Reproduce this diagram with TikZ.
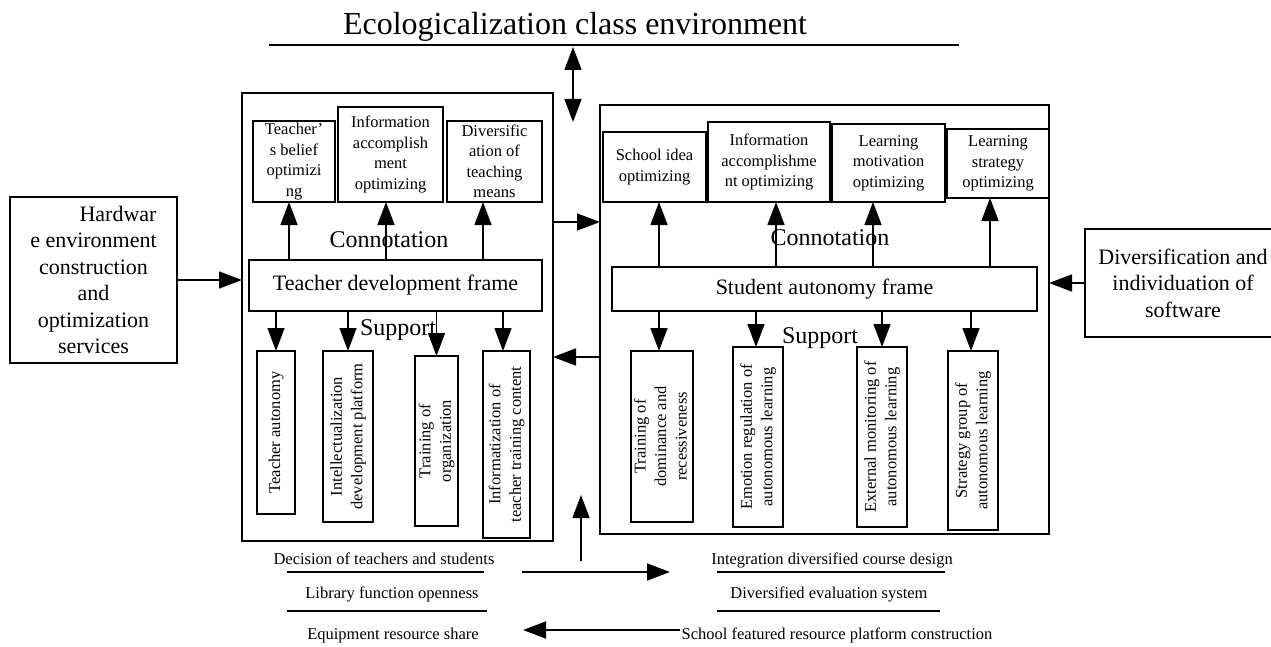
\documentclass[tikz,border=0pt]{standalone}
\usepackage{fontspec}
\setmainfont{Liberation Serif}
\usepackage{graphicx}
\usetikzlibrary{arrows.meta}
\begin{document}
\begin{tikzpicture}[x=1pt,y=-1pt]
\tikzset{
 box/.style={draw, line width=1.6pt, inner sep=0pt, outer sep=0pt, align=center},
 frame/.style={draw, line width=1.6pt, inner sep=0pt, outer sep=0pt},
 fs/.style={font=\fontsize{16.5}{20.5}\selectfont},
 fm/.style={font=\fontsize{22}{26.5}\selectfont},
 fl/.style={font=\fontsize{24}{28}\selectfont},
 arr/.style={line width=1.4pt, -{Triangle[length=23pt,width=17pt]}},
 darr/.style={line width=1.4pt, {Triangle[length=23pt,width=17pt]}-{Triangle[length=23pt,width=17pt]}},
 rulel/.style={line width=1.6pt},
 lbl/.style={inner sep=0pt, anchor=base},
}
\useasboundingbox (0,0) rectangle (1271,647);
\fill[white] (0,0) rectangle (1271,647);

% title
\node[lbl, font=\fontsize{32}{38}\selectfont] (title) at (575,35) {Ecologicalization class environment};
\coordinate (ul1) at (269,45);
\coordinate (ul2) at (959,45);
\draw[rulel] (ul1) -- (ul2);
\coordinate (ecoA) at (573,47);
\coordinate (ecoB) at (573,122);
\draw[darr] (ecoA) -- (ecoB);

% big frames
\node[frame, minimum width=311pt, minimum height=448pt] (T) at (397.5,317) {};
\node[frame, minimum width=449pt, minimum height=429pt] (S) at (824.5,319.5) {};

% side boxes
\node[box, fm, minimum width=167pt, minimum height=166pt] (H) at (93.5,280)
 {\makebox[126pt][r]{Hardwar}\\e environment\\construction\\and\\optimization\\services};
\node[box, fm, minimum width=196pt, minimum height=108pt] (D) at (1183,283)
 {Diversification and\\individuation of\\software};
\draw[arr] (H.east) -- (H.east -| T.west);
\draw[arr] (D.west) -- (D.west -| S.east);

\coordinate (tsA) at ([yshift=95pt]T.east);
\draw[arr] (tsA) -- (tsA -| S.west);
\coordinate (stA) at ([yshift=-37.5pt]S.west);
\draw[arr] (stA) -- (stA -| T.east);

% teacher frame content
\node[box, fs, minimum width=82pt, minimum height=81pt] (t1) at (294,161.5) {Teacher’\\s belief\\optimizi\\ng};
\node[box, fs, minimum width=105pt, minimum height=95pt] (t2) at (390.5,154.5) {Information\\accomplish\\ment\\optimizing};
\node[box, fs, minimum width=95pt, minimum height=81pt] (t3) at (494.5,161.5) {Diversific\\ation of\\teaching\\means};
\node[lbl, fl] (con1) at (389,247) {Connotation};
\node[box, fm, minimum width=293pt, minimum height=51pt] (TF) at (395.5,285.5) {Teacher development frame};
\draw[arr] ([xshift=-5pt]t1.south |- TF.north) -- ([xshift=-5pt]t1.south);
\draw[arr] ([xshift=-4.5pt]t2.south |- TF.north) -- ([xshift=-4.5pt]t2.south);
\draw[arr] ([xshift=-11.5pt]t3.south |- TF.north) -- ([xshift=-11.5pt]t3.south);

\node[lbl, fl] (sup1) at (398,335) {Support};
\node[box, fs, minimum width=38pt, minimum height=163pt] (b1) at (276,432.5)
 {\rotatebox{90}{\begin{tabular}{@{}c@{}}Teacher autonomy\end{tabular}}};
\node[box, fs, minimum width=50pt, minimum height=171pt] (b2) at (348,436.5)
 {\rotatebox{90}{\begin{tabular}{@{}c@{}}Intellectualization\\development platform\end{tabular}}};
\node[box, fs, minimum width=43pt, minimum height=170pt] (b3) at (436.5,441)
 {\rotatebox{90}{\begin{tabular}{@{}c@{}}Training of\\organization\end{tabular}}};
\node[box, fs, minimum width=47pt, minimum height=187pt] (b4) at (506.5,444.5)
 {\rotatebox{90}{\begin{tabular}{@{}c@{}}Informatization of\\teacher training content\end{tabular}}};
\draw[arr] (b1.north |- TF.south) -- (b1.north);
\draw[arr] (b2.north |- TF.south) -- (b2.north);
\draw[arr] (b3.north |- TF.south) -- (b3.north);
\draw[arr] ([xshift=-3.5pt]b4.north |- TF.south) -- ([xshift=-3.5pt]b4.north);

% student frame content
\node[box, fs, minimum width=103pt, minimum height=70pt] (s1) at (654.5,167) {School idea\\optimizing};
\node[box, fs, minimum width=122pt, minimum height=80pt] (s2) at (769,162) {Information\\accomplishme\\nt optimizing};
\node[box, fs, minimum width=113pt, minimum height=78pt] (s3) at (888.5,163) {Learning\\motivation\\optimizing};
\node[box, fs, minimum width=102pt, minimum height=69pt] (s4) at (998,163.5) {Learning\\strategy\\optimizing};
\node[lbl, fl] (con2) at (830,245) {Connotation};
\node[box, fm, minimum width=425pt, minimum height=44pt] (SF) at (824.5,289) {Student autonomy frame};
\draw[arr] ([xshift=4.5pt]s1.south |- SF.north) -- ([xshift=4.5pt]s1.south);
\draw[arr] ([xshift=7pt]s2.south |- SF.north) -- ([xshift=7pt]s2.south);
\draw[arr] ([xshift=-15.5pt]s3.south |- SF.north) -- ([xshift=-15.5pt]s3.south);
\draw[arr] ([xshift=-8pt]s4.south |- SF.north) -- ([xshift=-8pt]s4.south);

\node[lbl, fl] (sup2) at (820,343) {Support};
\node[box, fs, minimum width=62pt, minimum height=171pt] (c1) at (662,436.5)
 {\rotatebox{90}{\begin{tabular}{@{}c@{}}Training of\\dominance and\\recessiveness\end{tabular}}};
\node[box, fs, minimum width=50pt, minimum height=180pt] (c2) at (758,437)
 {\rotatebox{90}{\begin{tabular}{@{}c@{}}Emotion regulation of\\autonomous learning\end{tabular}}};
\node[box, fs, minimum width=50pt, minimum height=180pt] (c3) at (882,437)
 {\rotatebox{90}{\begin{tabular}{@{}c@{}}External monitoring of\\autonomous learning\end{tabular}}};
\node[box, fs, minimum width=50pt, minimum height=179pt] (c4) at (973,440.5)
 {\rotatebox{90}{\begin{tabular}{@{}c@{}}Strategy group of\\autonomous learning\end{tabular}}};
\draw[arr] ([xshift=-3pt]c1.north |- SF.south) -- ([xshift=-3pt]c1.north);
\draw[arr] ([xshift=-2pt]c2.north |- SF.south) -- ([xshift=-2pt]c2.north);
\draw[arr] (c3.north |- SF.south) -- (c3.north);
\draw[arr] ([xshift=-2pt]c4.north |- SF.south) -- ([xshift=-2pt]c4.north);

% bottom area
\coordinate (vA) at (581,561);
\coordinate (vB) at (581,495);
\draw[arr] (vA) -- (vB);

\node[lbl, fs] (L1) at (384,564) {Decision of teachers and students};
\node[lbl, fs] (L2) at (392,598) {Library function openness};
\node[lbl, fs] (L3) at (393,639) {Equipment resource share};
\node[lbl, fs] (R1) at (832,564) {Integration diversified course design};
\node[lbl, fs] (R2) at (829,598) {Diversified evaluation system};
\node[lbl, fs] (R3) at (837,639) {School featured resource platform construction};

\coordinate (la1) at (287,572); \coordinate (la2) at (484,572);
\coordinate (lb1) at (287,611); \coordinate (lb2) at (487,611);
\coordinate (ra1) at (717,572); \coordinate (ra2) at (945,572);
\coordinate (rb1) at (717,611); \coordinate (rb2) at (940,611);
\draw[rulel] (la1) -- (la2);
\draw[rulel] (lb1) -- (lb2);
\draw[rulel] (ra1) -- (ra2);
\draw[rulel] (rb1) -- (rb2);

\coordinate (arR1) at (522,572); \coordinate (arR2) at (670,572);
\draw[arr] (arR1) -- (arR2);
\coordinate (arL1) at (680,630); \coordinate (arL2) at (523,630);
\draw[arr] (arL1) -- (arL2);
\end{tikzpicture}
\end{document}
